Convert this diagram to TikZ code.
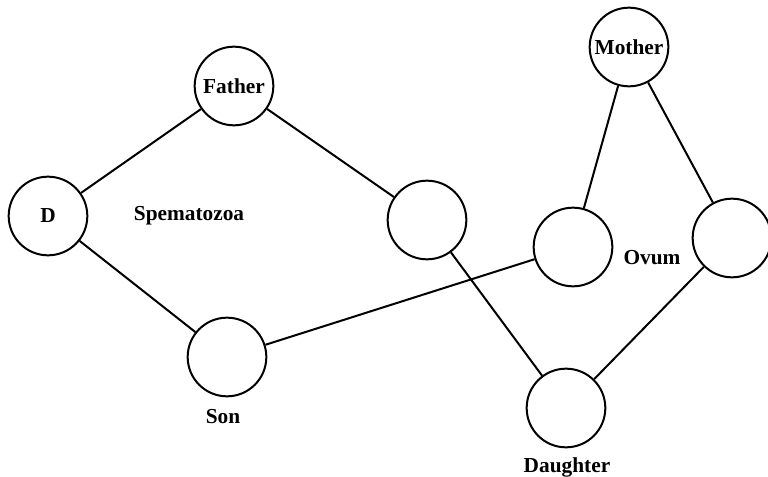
\documentclass[tikz,border=0pt]{standalone}
\usepackage{fontspec}
\setmainfont{Liberation Serif}
\begin{document}
\begin{tikzpicture}[
    x=0.75pt, y=-0.75pt,
    person/.style={circle, draw, line width=1.5pt, minimum size=59pt, inner sep=0pt, font=\bfseries\fontsize{16}{19}\selectfont},
    label/.style={font=\bfseries\fontsize{16}{19}\selectfont},
    link/.style={line width=1.5pt}
]
    \useasboundingbox (0,0) rectangle (768,477);

    \node [person] (father) at (234,86) {Father};
    \node [person] (d) at (48,216) {D};
    \node [person] (fright) at (427,220) {};
    \node [person] (son) at (227,357) {};
    \node [person] (mother) at (629,47) {Mother};
    \node [person] (ovum) at (573,247) {};
    \node [person] (mright) at (732,238) {};
    \node [person] (daughter) at (566,408) {};

    \node [label] (sperm) at (189,216) {Spematozoa};
    \node [label] (ovumtext) at (652,258) {Ovum};
    \node [label] (sontext) at (223,417) {Son};
    \node [label] (daughtertext) at (567,467) {Daughter};

    \draw [link] (father) -- (d);
    \draw [link] (father) -- (fright);
    \draw [link] (d) -- (son);
    \draw [link] (fright) -- (daughter);
    \draw [link] (son) -- (ovum);
    \draw [link] (mother) -- (ovum);
    \draw [link] (mother) -- (mright);
    \draw [link] (mright) -- (daughter);
\end{tikzpicture}
\end{document}
